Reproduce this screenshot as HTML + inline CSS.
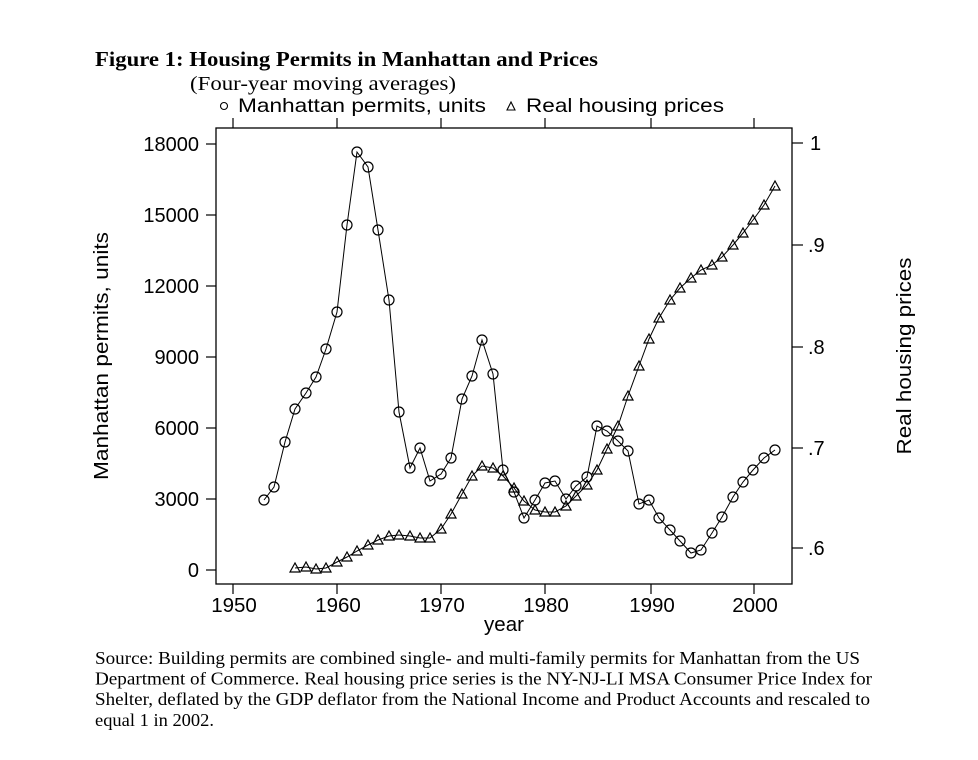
<!DOCTYPE html>
<html><head><meta charset="utf-8"><style>
body{margin:0;background:#fff;}
svg{display:block;}
.s{font-family:"Liberation Sans",sans-serif;fill:#000;}
.r{font-family:"Liberation Serif",serif;fill:#000;}
</style></head><body>
<svg id="g" width="978" height="760" xmlns="http://www.w3.org/2000/svg">
<rect width="978" height="760" fill="#fff"/>
<text class="r" x="95" y="66" font-size="21.5" font-weight="bold" textLength="503" lengthAdjust="spacingAndGlyphs">Figure 1: Housing Permits in Manhattan and Prices</text>
<text class="r" x="190" y="90" font-size="20.5" textLength="266" lengthAdjust="spacingAndGlyphs">(Four-year moving averages)</text>
<circle cx="224" cy="106" r="3.5" fill="none" stroke="#000" stroke-width="1.1"/>
<text class="s" x="238" y="112" font-size="19.5" textLength="248" lengthAdjust="spacingAndGlyphs">Manhattan permits, units</text>
<polygon points="511,102 507,110 515,110" fill="none" stroke="#000" stroke-width="1.1"/>
<text class="s" x="526" y="112" font-size="19.5" textLength="198" lengthAdjust="spacingAndGlyphs">Real housing prices</text>
<rect x="216" y="128" width="576" height="456" fill="none" stroke="#000" stroke-width="1.3"/>
<g stroke="#000" stroke-width="1.2">
<line x1="233" y1="128" x2="233" y2="118"/><line x1="337" y1="128" x2="337" y2="118"/><line x1="441" y1="128" x2="441" y2="118"/>
<line x1="545" y1="128" x2="545" y2="118"/><line x1="651" y1="128" x2="651" y2="118"/><line x1="754" y1="128" x2="754" y2="118"/>
<line x1="233" y1="584" x2="233" y2="594"/><line x1="337" y1="584" x2="337" y2="594"/><line x1="441" y1="584" x2="441" y2="594"/>
<line x1="545" y1="584" x2="545" y2="594"/><line x1="651" y1="584" x2="651" y2="594"/><line x1="754" y1="584" x2="754" y2="594"/>
<line x1="216" y1="144" x2="206" y2="144"/><line x1="216" y1="215" x2="206" y2="215"/><line x1="216" y1="286" x2="206" y2="286"/>
<line x1="216" y1="357" x2="206" y2="357"/><line x1="216" y1="428" x2="206" y2="428"/><line x1="216" y1="499" x2="206" y2="499"/><line x1="216" y1="570" x2="206" y2="570"/>
<line x1="792" y1="143" x2="803" y2="143"/><line x1="792" y1="245" x2="803" y2="245"/><line x1="792" y1="347" x2="803" y2="347"/>
<line x1="792" y1="448" x2="803" y2="448"/><line x1="792" y1="548" x2="803" y2="548"/>
</g>
<g class="s" font-size="20" text-anchor="end">
<text x="199" y="151">18000</text><text x="199" y="222">15000</text><text x="199" y="293">12000</text>
<text x="199" y="364">9000</text><text x="199" y="435">6000</text><text x="199" y="506">3000</text><text x="199" y="577">0</text>
</g>
<g class="s" font-size="20">
<text x="810" y="150">1</text><text x="808" y="252">.9</text><text x="808" y="354">.8</text><text x="808" y="455">.7</text><text x="808" y="555">.6</text>
</g>
<g class="s" font-size="20.5" text-anchor="middle">
<text x="234" y="612">1950</text><text x="338" y="612">1960</text><text x="442" y="612">1970</text>
<text x="546" y="612">1980</text><text x="652" y="612">1990</text><text x="755" y="612">2000</text>
<text x="504" y="631">year</text>
<text transform="translate(108,356) rotate(-90)" textLength="248" lengthAdjust="spacingAndGlyphs">Manhattan permits, units</text>
<text transform="translate(911,356) rotate(-90)" textLength="197" lengthAdjust="spacingAndGlyphs">Real housing prices</text>
</g>
<g id="series"></g>
<g class="r" font-size="17.5" xml:space="preserve" style="white-space:pre">
<text x="95" y="664" textLength="765" lengthAdjust="spacingAndGlyphs">Source:  Building permits are combined single- and multi-family permits for Manhattan from the US</text>
<text x="95" y="684.5" textLength="777" lengthAdjust="spacingAndGlyphs">Department of Commerce.  Real housing price series is the NY-NJ-LI MSA Consumer Price Index for</text>
<text x="95" y="705" textLength="775" lengthAdjust="spacingAndGlyphs">Shelter, deflated by the GDP deflator from the National Income and Product Accounts and rescaled to</text>
<text x="95" y="726" textLength="119" lengthAdjust="spacingAndGlyphs">equal 1 in 2002.</text>
</g>
</svg>
<script>
var c=[[264,500],[274,487],[285,442],[295,409],[306,393],[316,377],[326,349],[337,312],[347,225],[357,152],[368,167],[378,230],[389,300],[399,412],[410,468],[420,448],[430,481],[441,474],[451,458],[462,399],[472,376],[482,340],[493,374],[503,470],[514,492],[524,518],[535,500],[545,483],[555,481],[566,499],[576,486],[587,477],[597,426],[607,431],[618,441],[628,451],[639,504],[649,500],[659,518],[670,530],[680,541],[691,553],[701,550],[712,533],[722,517],[733,497],[743,482],[753,470],[764,458],[775,450]];
var t=[[295,568],[306,567],[316,569],[326,568],[337,562],[347,557],[357,551],[368,545],[378,540],[389,536],[399,535],[410,536],[420,538],[430,538],[441,529],[451,514],[462,494],[472,476],[482,466],[493,468],[503,476],[514,488],[524,501],[535,510],[545,512],[555,512],[566,506],[576,496],[587,485],[597,470],[607,449],[618,426],[628,396],[639,366],[649,339],[659,318],[670,300],[680,288],[691,278],[701,270],[712,265],[722,257],[733,245],[743,233],[753,220],[764,205],[775,186]];
var h='';
h+='<polyline fill="none" stroke="#000" stroke-width="1" points="'+c.map(p=>p.join(',')).join(' ')+'"/>';
h+='<polyline fill="none" stroke="#000" stroke-width="1" points="'+t.map(p=>p.join(',')).join(' ')+'"/>';
c.forEach(p=>{h+='<circle cx="'+p[0]+'" cy="'+p[1]+'" r="5" fill="none" stroke="#000" stroke-width="1.2"/>';});
t.forEach(p=>{var x=p[0],y=p[1];h+='<polygon points="'+x+','+(y-5)+' '+(x-5)+','+(y+4)+' '+(x+5)+','+(y+4)+'" fill="none" stroke="#000" stroke-width="1.2"/>';});
document.getElementById('series').innerHTML=h;
</script>
</body></html>
